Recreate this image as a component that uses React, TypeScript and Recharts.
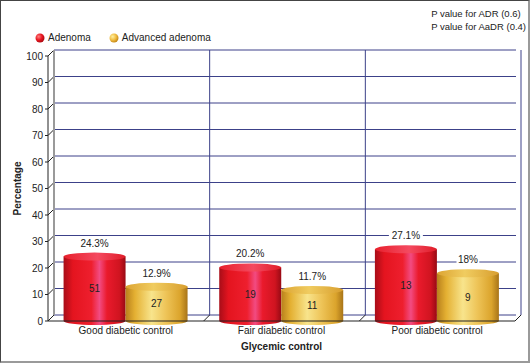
import React from 'react';
import { BarChart, Bar, XAxis, YAxis, CartesianGrid, LabelList } from 'recharts';

const categories = ['Good diabetic control', 'Fair diabetic control', 'Poor diabetic control'];
const adenomaPct = [24.3, 20.2, 27.1];
const advancedPct = [12.9, 11.7, 18];
const adenomaCount = [51, 19, 13];
const advancedCount = [27, 11, 9];
const yTicks = [0, 10, 20, 30, 40, 50, 60, 70, 80, 90, 100];
const pValueLines = ['P value for ADR (0.6)', 'P value for AaDR (0.4)'];

const series = [
    { key: 'adenoma', name: 'Adenoma', pct: 'adenomaPct', count: 'adenomaCount', ball: 'ballRed', body: 'bodyRed', top: 'topRed' },
    { key: 'advanced', name: 'Advanced adenoma', pct: 'advancedPct', count: 'advancedCount', ball: 'ballYellow', body: 'bodyYellow', top: 'topYellow' },
];

const data = categories.map((name, i) => ({
    name,
    adenomaPct: adenomaPct[i],
    advancedPct: advancedPct[i],
    adenomaCount: adenomaCount[i],
    advancedCount: advancedCount[i],
}));

const FONT = '"Liberation Sans", Arial, sans-serif';
const NAVY = '#3c4189';
const DEPTH = 6;

const makeCylinder = (body: string, top: string) => (props: any) => {
    const { x, y, width, height } = props;
    if (!width || height == null) return null;
    const rx = width / 2;
    const ry = 4;
    const d = `M${x},${y} L${x},${y + height} A${rx},${ry} 0 0 0 ${x + width},${y + height} L${x + width},${y} Z`;
    return (
        <g>
            <path d={d} fill={`url(#${body})`} />
            <ellipse cx={x + rx} cy={y} rx={rx} ry={ry} fill={`url(#${top})`} />
        </g>
    );
};

const TopLabel = (props: any) => {
    const { x, y, width, value } = props;
    const text = `${value}%`;
    const cx = x + width / 2;
    const w = text.length * 5.6 + 6;
    return (
        <g>
            <rect x={cx - w / 2} y={y - 19} width={w} height={11} fill="#fff" />
            <text x={cx} y={y - 10} textAnchor="middle" fontSize={10} fontFamily={FONT} fill="#222">
                {text}
            </text>
        </g>
    );
};

const gridLine = (props: any) => {
    const { x1, x2, y1, index } = props;
    return (
        <g key={`h-${index}`}>
            <line x1={x1 + DEPTH} y1={y1 - DEPTH} x2={x2 + 1} y2={y1 - DEPTH} stroke={NAVY} strokeWidth={1} />
            <line x1={x1} y1={y1} x2={x1 + DEPTH} y2={y1 - DEPTH} stroke="#222" strokeWidth={1} />
        </g>
    );
};

// category boundaries, drawn as back-wall separators with a slanted foot
const boundaryPoints = ({ offset }: any) =>
    categories.map((_, i) => i).concat([categories.length])
        .map((i) => offset.left + (offset.width * i) / categories.length);

const wallLine = (props: any) => {
    const { x1, y1, y2, index } = props;
    const top = Math.min(y1, y2);
    const bottom = Math.max(y1, y2);
    const isLeft = index === 0;
    return (
        <g key={`v-${index}`}>
            <line x1={x1 + DEPTH} y1={top - DEPTH} x2={x1 + DEPTH} y2={bottom - DEPTH}
                stroke={isLeft ? '#9a9a9a' : NAVY} strokeWidth={isLeft ? 2 : 1} />
            {!isLeft && <line x1={x1} y1={bottom} x2={x1 + DEPTH} y2={bottom - DEPTH} stroke="#222" strokeWidth={1} />}
        </g>
    );
};

const Ball = ({ id }: { id: string }) => (
    <svg width={10} height={10} style={{ marginRight: 3 }}>
        <circle cx={5} cy={5} r={4.5} fill={`url(#${id})`} />
    </svg>
);

export default function App() {
    return (
        <div style={{ position: 'absolute', left: 0, top: 0, width: 530, height: 363, background: '#fff', fontFamily: FONT }}>
            <svg width={0} height={0} style={{ position: 'absolute' }}>
                <defs>
                    <linearGradient id="bodyRed" x1="0" y1="0" x2="1" y2="0">
                        <stop offset="0%" stopColor="#a80d18" />
                        <stop offset="15%" stopColor="#e4141f" />
                        <stop offset="45%" stopColor="#ee1f2e" />
                        <stop offset="58%" stopColor="#f24b82" />
                        <stop offset="70%" stopColor="#ea1a2c" />
                        <stop offset="90%" stopColor="#d01420" />
                        <stop offset="100%" stopColor="#980a14" />
                    </linearGradient>
                    <linearGradient id="topRed" x1="0" y1="0" x2="1" y2="0">
                        <stop offset="0%" stopColor="#e8202c" />
                        <stop offset="55%" stopColor="#f44a60" />
                        <stop offset="100%" stopColor="#e01c28" />
                    </linearGradient>
                    <linearGradient id="bodyYellow" x1="0" y1="0" x2="1" y2="0">
                        <stop offset="0%" stopColor="#b8801c" />
                        <stop offset="15%" stopColor="#e4b032" />
                        <stop offset="42%" stopColor="#f8e48c" />
                        <stop offset="65%" stopColor="#eec458" />
                        <stop offset="88%" stopColor="#dba42c" />
                        <stop offset="100%" stopColor="#a87418" />
                    </linearGradient>
                    <linearGradient id="topYellow" x1="0" y1="0" x2="1" y2="0">
                        <stop offset="0%" stopColor="#dca432" />
                        <stop offset="45%" stopColor="#f0cc60" />
                        <stop offset="100%" stopColor="#d89e2e" />
                    </linearGradient>
                    <radialGradient id="ballRed" cx="35%" cy="35%" r="65%">
                        <stop offset="0%" stopColor="#ff8080" />
                        <stop offset="60%" stopColor="#e8141f" />
                        <stop offset="100%" stopColor="#b00c14" />
                    </radialGradient>
                    <radialGradient id="ballYellow" cx="35%" cy="35%" r="65%">
                        <stop offset="0%" stopColor="#fff0a0" />
                        <stop offset="60%" stopColor="#f0bc40" />
                        <stop offset="100%" stopColor="#c88c1c" />
                    </radialGradient>
                </defs>
            </svg>

            <BarChart
                width={530}
                height={363}
                data={data}
                margin={{ top: 56, right: 15, bottom: 0, left: 0 }}
                barCategoryGap="10%"
                barGap={0}
            >
                <CartesianGrid
                    horizontal={gridLine}
                    vertical={wallLine}
                    verticalCoordinatesGenerator={boundaryPoints}
                />
                <XAxis
                    dataKey="name"
                    height={42}
                    tickLine={false}
                    tickMargin={0}
                    axisLine={{ stroke: '#222' }}
                    tick={{ fontSize: 10, fill: '#222', fontFamily: FONT }}
                    label={{ value: 'Glycemic control', position: 'insideBottom', offset: 13, fontSize: 10, fontWeight: 'bold', fill: '#222', fontFamily: FONT }}
                />
                <YAxis
                    domain={[0, 100]}
                    ticks={yTicks}
                    width={48}
                    tickSize={3}
                    interval={0}
                    axisLine={{ stroke: '#222' }}
                    tickLine={{ stroke: '#222' }}
                    tick={{ fontSize: 10, fill: '#222', fontFamily: FONT }}
                    label={{ value: 'Percentage', angle: -90, position: 'center', dx: -7, fontSize: 10, fontWeight: 'bold', fill: '#222', fontFamily: FONT }}
                />
                {series.map((s) => (
                    <Bar
                        key={s.key}
                        dataKey={s.pct}
                        name={s.name}
                        shape={makeCylinder(s.body, s.top)}
                        isAnimationActive={false}
                    >
                        <LabelList dataKey={s.pct} content={TopLabel} />
                        <LabelList dataKey={s.count} position="center" fontSize={10} fill="#222" fontFamily={FONT} />
                    </Bar>
                ))}
            </BarChart>

            <div style={{ position: 'absolute', left: 35, top: 32, display: 'flex', alignItems: 'center', fontSize: 10, color: '#222' }}>
                {series.map((s) => (
                    <div key={s.key} style={{ display: 'flex', alignItems: 'center', marginRight: 18 }}>
                        <Ball id={s.ball} />
                        <span>{s.name}</span>
                    </div>
                ))}
            </div>

            <div style={{ position: 'absolute', right: 4, top: 7, fontSize: 9.5, lineHeight: '13px', color: '#222', whiteSpace: 'nowrap' }}>
                {pValueLines.map((t) => (
                    <div key={t}>{t}</div>
                ))}
            </div>

            <div style={{
                position: 'absolute', left: 0, top: 0, width: 530, height: 363, boxSizing: 'border-box',
                borderTop: '1px solid #444', borderLeft: '1px solid #444',
                borderRight: '2px solid #9a9a9a', borderBottom: '2px solid #9a9a9a', pointerEvents: 'none',
            }} />
        </div>
    );
}
